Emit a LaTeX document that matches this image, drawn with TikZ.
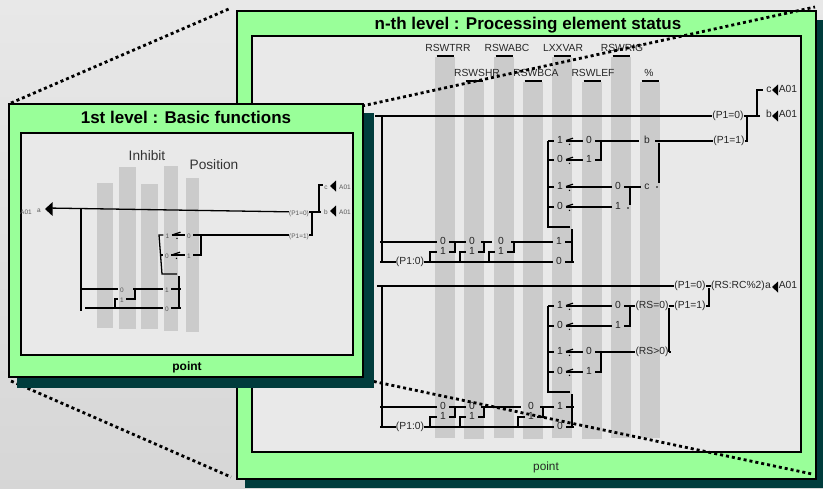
\documentclass[tikz,border=0pt]{standalone}
\usepackage{fontspec}
\setmainfont{Liberation Sans}

\definecolor{panelgreen}{HTML}{99FF99}
\definecolor{shadowteal}{HTML}{003C3C}
\definecolor{innergray}{HTML}{E9E9E9}
\definecolor{bargray}{HTML}{CBCBCB}

\tikzset{pics/flagmark/.style={code={
\draw[line width=1.2pt] (6,-.5) -- (13,-2.8);
\fill (9.5,3.3) circle (.8pt);
}},
pics/tipmark/.style={code={
\fill (0,0) -- (6,-5.5) -- (6,5.5) -- cycle;
}}}

\begin{document}
\begin{tikzpicture}[x=1pt,y=-1pt,
panel/.style={draw=black,line width=1.6pt,fill=panelgreen,anchor=north west,inner sep=0pt},
inner/.style={draw=black,line width=1.5pt,fill=innergray,anchor=north west,inner sep=0pt},
shadow/.style={fill=shadowteal,anchor=north west,inner sep=0pt},
bar/.style={fill=bargray,anchor=north,inner sep=0pt},
wire/.style={draw=black,line width=1.6pt},
swire/.style={draw=black,line width=1.3pt},
zoomline/.style={draw=black,line width=2.8pt,dash pattern=on 3pt off 3pt},
lab/.style={inner ysep=0pt,inner xsep=3pt,text=black!85,text height=7.4pt,text depth=2pt,font=\fontsize{10.3}{12}\selectfont},
cond/.style={lab,inner xsep=0pt},
slab/.style={inner ysep=0pt,inner xsep=2pt,text=black!65,text height=6pt,text depth=0pt,font=\fontsize{6.5}{8}\selectfont},
scond/.style={slab,inner xsep=0pt}]
\useasboundingbox (0,0) rectangle (823,488);
\fill[top color=black!9,bottom color=black!16] (0,0) rectangle (823,488);

\coordinate (tl0) at (11,103);
\coordinate (tl1) at (231,8);
\coordinate (bl0) at (11,381);
\coordinate (bl1) at (231,477);
\draw[zoomline] (tl0) -- (tl1);
\draw[zoomline] (bl0) -- (bl1);

\node[shadow,minimum width=578pt,minimum height=468pt] (bigshadow) at (245,20) {};
\node[panel,minimum width=579pt,minimum height=468pt] (big) at (236,10) {};
\node[inner,minimum width=549pt,minimum height=416pt] (bigin) at (251,35) {};
\node[font=\fontsize{17}{19}\selectfont\bfseries] (bigtitle) at (528,25) {n-th level : Processing element status};
\node[font=\fontsize{11.8}{14}\selectfont,text=black!85] (bigpoint) at (546,467) {point};

\node[bar,minimum width=20pt,minimum height=381pt] (ub1) at (445,57) {};
\node[bar,minimum width=20pt,minimum height=357pt] (ub2) at (474,82) {};
\node[bar,minimum width=20pt,minimum height=381pt] (ub3) at (504,57) {};
\node[bar,minimum width=20pt,minimum height=357pt] (ub4) at (533,82) {};
\node[bar,minimum width=20pt,minimum height=381pt] (ub5) at (562,57) {};
\node[bar,minimum width=20pt,minimum height=357pt] (ub6) at (592,82) {};
\node[bar,minimum width=20pt,minimum height=381pt] (ub7) at (621,57) {};
\node[bar,minimum width=20pt,minimum height=356pt] (ub8) at (650,82) {};
\draw[wire] (ub1.north) ++(-8.5,-1) -- ++(17,0);
\draw[wire] (ub2.north) ++(-8.5,-1) -- ++(17,0);
\draw[wire] (ub3.north) ++(-8.5,-1) -- ++(17,0);
\draw[wire] (ub4.north) ++(-8.5,-1) -- ++(17,0);
\draw[wire] (ub5.north) ++(-8.5,-1) -- ++(17,0);
\draw[wire] (ub6.north) ++(-8.5,-1) -- ++(17,0);
\draw[wire] (ub7.north) ++(-8.5,-1) -- ++(17,0);
\draw[wire] (ub8.north) ++(-8.5,-1) -- ++(17,0);
\node[lab] (h1) at (448,49) {RSWTRR};
\node[lab] (h2) at (477,74) {RSWSHR};
\node[lab] (h3) at (507,49) {RSWABC};
\node[lab] (h4) at (536,74) {RSWBCA};
\node[lab] (h5) at (563,49) {LXXVAR};
\node[lab] (h6) at (593,74) {RSWLEF};
\node[lab] (h7) at (622,49) {RSWRIG};
\node[lab] (h8) at (649,74) {\%};

\node[lab] (u00) at (443,242) {0};
\node[lab] (u01) at (472,242) {0};
\node[lab] (u02) at (501,242) {0};
\node[lab] (u03) at (559,242) {1};
\node[lab] (u10) at (443,252) {1};
\node[lab] (u11) at (472,252) {1};
\node[lab] (u12) at (501,252) {1};
\node[cond] (up) at (410,262) {(P1:0)};
\node[lab] (ub) at (559,262) {0};
\node[lab] (ua1) at (560,141) {1};
\node[lab] (ua2) at (560,160) {0};
\node[lab] (ua3) at (560,187) {1};
\node[lab] (ua4) at (560,207) {0};
\node[lab] (uc1) at (589,141) {0};
\node[lab] (uc2) at (589,160) {1};
\node[lab] (ud1) at (618,187) {0};
\node[lab] (ud2) at (618,207) {1};
\node[lab,inner xsep=5pt] (ue1) at (647,141) {b};
\node[lab] (ue2) at (647,187) {c};
\node[cond] (uf0) at (728,116) {(P1=0)};
\node[cond] (uf1) at (729,141) {(P1=1)};
\node[lab,inner xsep=0pt] (ug0) at (769,90) {c};
\node[lab,inner xsep=0pt] (ug1) at (769,115) {b};
\pic (ut0) at (772,90) {tipmark};
\pic (ut1) at (772,116) {tipmark};
\node[lab,inner xsep=0pt] (ux0) at (788,90) {A01};
\node[lab,inner xsep=0pt] (ux1) at (788,115) {A01};

\coordinate (um0) at (375,116);
\coordinate (um1) at (382,116);
\coordinate (um2) at (382,262);
\coordinate (um3) at (380,242);
\coordinate (um4) at (380,262);
\coordinate (uq0) at (481,242);
\coordinate (uq1) at (492,242);
\coordinate (uq2) at (511,242);
\coordinate (uj0) at (430,262);
\coordinate (uj1) at (455,242);
\coordinate (uj2) at (460,262);
\coordinate (uj3) at (484,242);
\coordinate (uj4) at (489,262);
\coordinate (uj5) at (514,242);
\coordinate (uv0) at (572,229);
\coordinate (uv1) at (572,242);
\coordinate (uv2) at (548,227);
\coordinate (uv3) at (570,227);
\coordinate (uv4) at (548,141);
\coordinate (uv5) at (574,262);
\coordinate (uk0) at (601,141);
\coordinate (uk1) at (630,187);
\coordinate (uk2) at (630,205);
\coordinate (uk3) at (659,143);
\coordinate (uk4) at (659,183);
\coordinate (uk5) at (747,116);
\coordinate (uk6) at (760,116);
\coordinate (uk7) at (757,116);
\coordinate (uk8) at (757,90);
\coordinate (uk9) at (763,90);
\draw[wire] (um0) -- (uf0);
\draw[wire] (um1) -- (um2);
\draw[wire] (um3) -- (u00) -- (u01);
\draw[wire] (uq0) -- (uq1);
\draw[wire] (uq2) -- (u03) -- (uv1);
\draw[wire] (um4) -- (up) -- (ub) -- (uv5);
\draw[wire] (u10) -| (uj0);
\draw[wire] (u10) -| (uj1);
\draw[wire] (u11) -| (uj2);
\draw[wire] (u11) -| (uj3);
\draw[wire] (u12) -| (uj4);
\draw[wire] (u12) -| (uj5);
\draw[wire] (uv0) |- (ub);
\draw[wire] (uv3) -- (uv2) -- (uv4);
\draw[wire] (ua1) -- (ua1 -| uv4);
\draw[wire] (ua2) -- (ua2 -| uv4);
\draw[wire] (ua3) -- (ua3 -| uv4);
\draw[wire] (ua4) -- (ua4 -| uv4);
\draw[wire] (ua1) -- (uc1) -- (ue1) -- (uf1);
\draw[wire] (ua2) -- (uc2);
\draw[wire] (uc2) -| (uk0);
\draw[wire] (ua3) -- (ud1) -- (ue2);
\draw[wire] (ua4) -- (ud2);
\draw[wire] (uk1) -- (uk2);
\draw[wire] (uk3) -- (uk4);
\draw[wire] (uf1) -| (uk5);
\draw[wire] (uf0) -- (uk6);
\draw[wire] (uk7) -- (uk8) -- (uk9);
\fill (628,208) circle (.8pt);
\fill (657,187) circle (.8pt);
\pic at (ua1) {flagmark};
\pic at (ua2) {flagmark};
\pic at (ua3) {flagmark};
\pic at (ua4) {flagmark};

\node[lab] (d00) at (443,407) {0};
\node[lab] (d01) at (472,407) {0};
\node[lab] (d02) at (531,407) {0};
\node[lab] (d03) at (560,407) {1};
\node[lab] (d10) at (443,417) {1};
\node[lab] (d11) at (472,417) {1};
\node[lab] (d12) at (531,417) {1};
\node[cond] (dp) at (410,427) {(P1:0)};
\node[lab] (db) at (560,427) {0};
\node[lab] (da1) at (560,306) {1};
\node[lab] (da2) at (560,326) {0};
\node[lab] (da3) at (560,352) {1};
\node[lab] (da4) at (560,372) {0};
\node[lab] (dc1) at (618,306) {0};
\node[lab] (dc2) at (618,326) {1};
\node[lab] (dd1) at (589,352) {0};
\node[lab] (dd2) at (589,372) {1};
\node[cond] (de1) at (652,306) {(RS=0)};
\node[cond] (de2) at (652,352) {(RS>0)};
\node[cond] (df0) at (690,286) {(P1=0)};
\node[cond] (df1) at (690,306) {(P1=1)};
\node[cond] (dr) at (738,286) {(RS:RC\%2)};
\node[lab,inner xsep=0pt] (dg) at (768,286) {a};
\pic (dt) at (772,287) {tipmark};
\node[lab,inner xsep=0pt] (dx) at (788,286) {A01};

\coordinate (dm0) at (377,286);
\coordinate (dm1) at (382,286);
\coordinate (dm2) at (382,427);
\coordinate (dm3) at (380,407);
\coordinate (dm4) at (380,427);
\coordinate (dq0) at (481,407);
\coordinate (dq1) at (521,407);
\coordinate (dq2) at (540,407);
\coordinate (dj0) at (430,427);
\coordinate (dj1) at (455,407);
\coordinate (dj2) at (460,427);
\coordinate (dj3) at (484,407);
\coordinate (dj4) at (518,427);
\coordinate (dj5) at (543,407);
\coordinate (dv0) at (572,394);
\coordinate (dv1) at (574,407);
\coordinate (dv2) at (548,392);
\coordinate (dv3) at (570,392);
\coordinate (dv4) at (548,306);
\coordinate (dv5) at (574,427);
\coordinate (dk0) at (630,306);
\coordinate (dk1) at (601,352);
\coordinate (dk2) at (669,308);
\coordinate (dk3) at (671,352);
\coordinate (dk4) at (669,352);
\coordinate (dk5) at (709,288);
\draw[wire] (dm0) -- (df0) -- (dr);
\draw[wire] (dm1) -- (dm2);
\draw[wire] (dm3) -- (d00) -- (d01);
\draw[wire] (dq0) -- (dq1);
\draw[wire] (dq2) -- (d03) -- (dv1);
\draw[wire] (dm4) -- (dp) -- (db) -- (dv5);
\draw[wire] (d10) -| (dj0);
\draw[wire] (d10) -| (dj1);
\draw[wire] (d11) -| (dj2);
\draw[wire] (d11) -| (dj3);
\draw[wire] (d12) -| (dj4);
\draw[wire] (d12) -| (dj5);
\draw[wire] (dv0) |- (db);
\draw[wire] (dv3) -- (dv2) -- (dv4);
\draw[wire] (da1) -- (da1 -| dv4);
\draw[wire] (da2) -- (da2 -| dv4);
\draw[wire] (da3) -- (da3 -| dv4);
\draw[wire] (da4) -- (da4 -| dv4);
\draw[wire] (da1) -- (dc1) -- (de1) -- (df1);
\draw[wire] (da2) -- (dc2);
\draw[wire] (dc2) -| (dk0);
\draw[wire] (da3) -- (dd1) -- (de2);
\draw[wire] (da4) -- (dd2);
\draw[wire] (dd2) -| (dk1);
\draw[wire] (de2) -- (dk3);
\draw[wire] (dk2) -- (dk4);
\draw[wire] (df1) -| (dk5);
\pic at (da1) {flagmark};
\pic at (da2) {flagmark};
\pic at (da3) {flagmark};
\pic at (da4) {flagmark};

\coordinate (tr0) at (362,106);
\coordinate (tr1) at (815,7);
\coordinate (br0) at (362,379);
\coordinate (br1) at (812,474);
\draw[zoomline] (tr0) -- (tr1);
\draw[zoomline] (br0) -- (br1);

\node[shadow,minimum width=357pt,minimum height=275pt] (smallshadow) at (17,113) {};
\node[panel,minimum width=354pt,minimum height=273pt] (small) at (8,103) {};
\node[inner,minimum width=332pt,minimum height=222pt] (smallin) at (20,132) {};
\node[font=\fontsize{17}{19}\selectfont\bfseries] (smalltitle) at (186,117) {1st level : Basic functions};
\node[font=\fontsize{12}{14}\selectfont\bfseries] (smallpoint) at (187,367) {point};

\node[bar,minimum width=16pt,minimum height=145pt] (sb1) at (105,183) {};
\node[bar,minimum width=17pt,minimum height=162pt] (sb2) at (127.5,167) {};
\node[bar,minimum width=17pt,minimum height=145pt] (sb3) at (149.5,184) {};
\node[bar,minimum width=14pt,minimum height=165pt] (sb4) at (171,166) {};
\node[bar,minimum width=13pt,minimum height=154pt] (sb5) at (192.5,178) {};
\node[font=\fontsize{13.7}{16}\selectfont,text=black!80] (inhibit) at (147,156) {Inhibit};
\node[font=\fontsize{13.7}{16}\selectfont,text=black!80] (position) at (214,165) {Position};

\node[slab] (s00) at (122,289) {0};
\node[slab] (s03) at (167,289) {1};
\node[slab] (s10) at (122,299) {1};
\node[slab] (sb) at (167,308) {0};
\node[slab] (sa1) at (167.5,235) {1};
\node[slab] (sa2) at (167,255) {0};
\node[slab] (sc1) at (189,235) {0};
\node[slab] (sc2) at (189,255) {1};
\node[scond] (sf0) at (299,212) {(P1=0)};
\node[scond] (sf1) at (299,235) {(P1=1)};
\node[slab,inner xsep=0pt] (sg0) at (326,186) {c};
\node[slab,inner xsep=0pt] (sg1) at (326,211) {b};
\pic (st0) at (330,186) {tipmark};
\pic (st1) at (330,211) {tipmark};
\node[slab,inner xsep=0pt] (sx0) at (345,186.5) {A01};
\node[slab,inner xsep=0pt] (sx1) at (345,211) {A01};
\node[slab,inner xsep=0pt] (sax) at (26,211) {A01};
\node[slab,inner xsep=0pt] (sag) at (39,209.5) {a};
\pic[scale=1.25] (sat) at (45,209) {tipmark};

\coordinate (sm0) at (47,208);
\coordinate (sm1) at (81,209);
\coordinate (sm2) at (81,311);
\coordinate (sm3) at (85,308);
\coordinate (sq0) at (133,289);
\coordinate (sv0) at (179,276);
\coordinate (sv1) at (181,289);
\coordinate (sv2) at (177,274);
\coordinate (sv3) at (162,274);
\coordinate (sv4) at (159,235);
\coordinate (sv5) at (181,308);
\coordinate (sv6) at (160,255);
\coordinate (sj0) at (115,307);
\coordinate (sj1) at (135,289);
\coordinate (sk0) at (201,235);
\coordinate (sk1) at (312,212);
\coordinate (sk2) at (321,212);
\coordinate (sk3) at (319,212);
\coordinate (sk4) at (319,185);
\coordinate (sk5) at (323,185);
\draw[swire] (sm0) -- (sf0);
\draw[swire] (sm1) -- (sm2);
\draw[swire] (sm1 |- s00) -- (s00);
\draw[swire] (sq0) -- (s03) -- (sv1);
\draw[swire] (sm3) -- (sb) -- (sv5);
\draw[swire] (s10) -| (sj0);
\draw[swire] (s10) -| (sj1);
\draw[swire] (sv0) |- (sb);
\draw[swire] (sv2) -- (sv3) -- (sv4) -- (sa1);
\draw[swire] (sv6) -- (sa2);
\draw[swire] (sa1) -- (sc1) -- (sf1);
\draw[swire] (sa2) -- (sc2);
\draw[swire] (sc2) -| (sk0);
\draw[swire] (sf1) -| (sk1);
\draw[swire] (sf0) -- (sk2);
\draw[swire] (sk3) -- (sk4) -- (sk5);
\pic at (sa1) {flagmark};
\pic at (sa2) {flagmark};
\end{tikzpicture}
\end{document}
